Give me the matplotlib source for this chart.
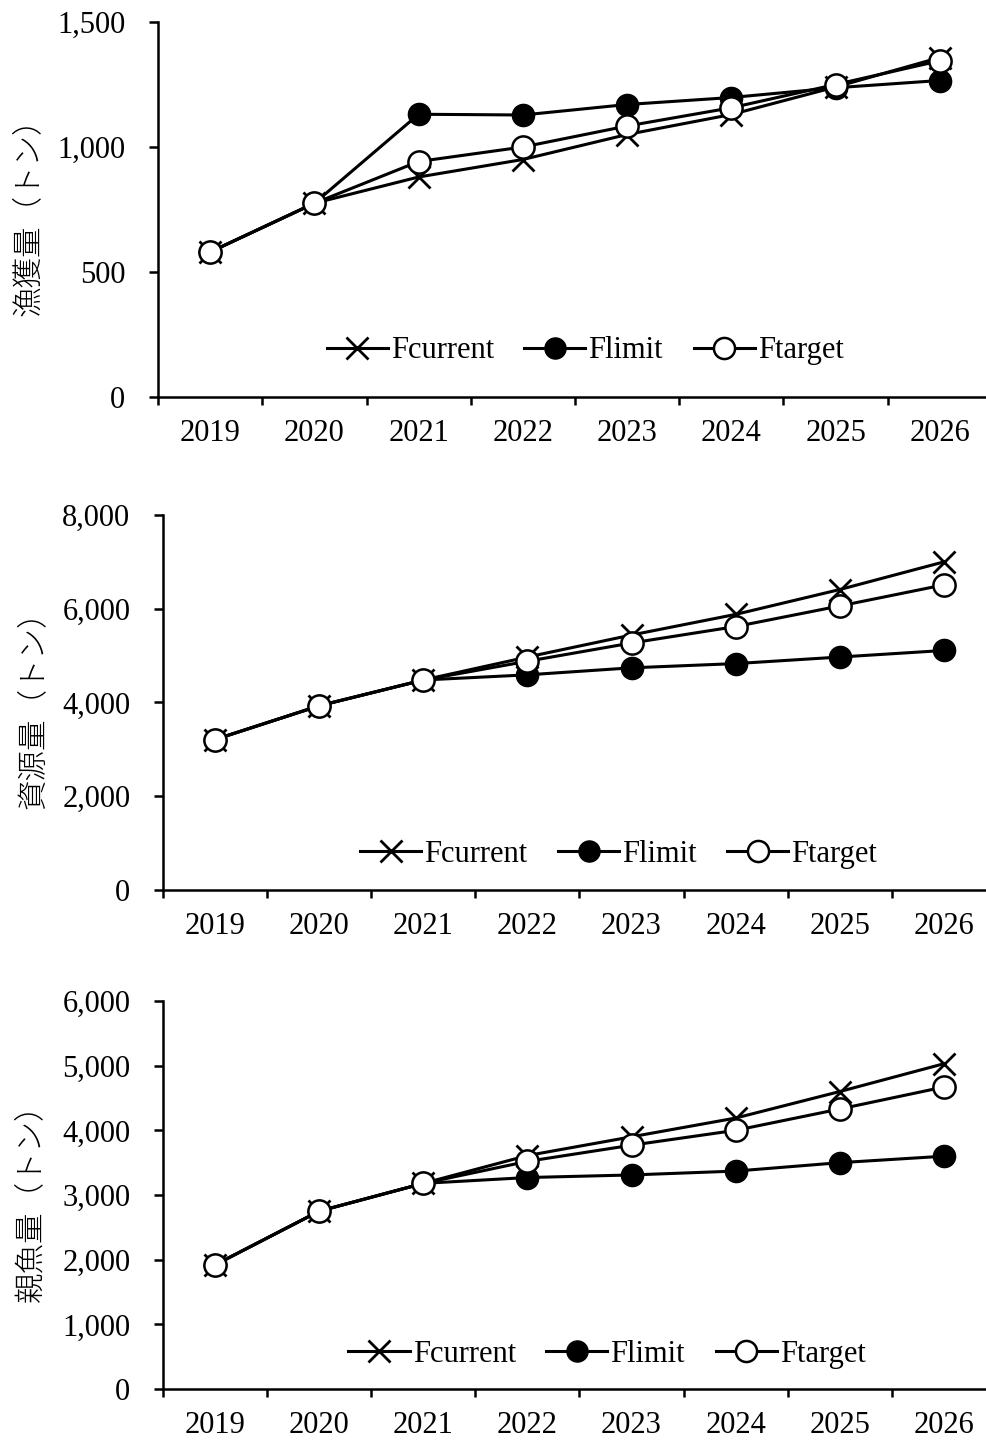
import matplotlib.pyplot as plt
from matplotlib.ticker import FuncFormatter, MultipleLocator
import numpy as np

years = ['2019', '2020', '2021', '2022', '2023', '2024', '2025', '2026']
series_names = ['Fcurrent', 'Flimit', 'Ftarget']

# 漁獲量
catch_fcurrent = [580, 775, 880, 950, 1050, 1130, 1240, 1358]
catch_flimit = [580, 775, 1131, 1128, 1170, 1198, 1237, 1266]
catch_ftarget = [580, 775, 942, 1000, 1084, 1157, 1250, 1345]

# 資源量
stock_fcurrent = [3210, 3930, 4480, 4970, 5440, 5880, 6410, 7000]
stock_flimit = [3210, 3930, 4480, 4590, 4740, 4830, 4970, 5110]
stock_ftarget = [3210, 3930, 4480, 4880, 5270, 5620, 6060, 6510]

# 親魚量
ssb_fcurrent = [1920, 2750, 3180, 3610, 3900, 4190, 4600, 5030]
ssb_flimit = [1920, 2750, 3180, 3270, 3310, 3370, 3500, 3600]
ssb_ftarget = [1920, 2750, 3180, 3520, 3770, 4000, 4330, 4670]

ylabels = ['漁獲量（トン）', '資源量（トン）', '親魚量（トン）']

plt.rcParams['font.family'] = ['Liberation Serif', 'DejaVu Serif']

W, H = 987, 1443
fig = plt.figure(figsize=(W / 100, H / 100), dpi=100)

# 各パネルの位置 (px): left, right, top, bottom
panels = [
    dict(box=(158, 992, 22, 397), data=(catch_fcurrent, catch_flimit, catch_ftarget),
         ymax=1500, step=500, leg=(0.512, 0.123), lab_x=44),
    dict(box=(163, 996, 515, 890), data=(stock_fcurrent, stock_flimit, stock_ftarget),
         ymax=8000, step=2000, leg=(0.547, 0.095), lab_x=49),
    dict(box=(163, 996, 1001, 1389), data=(ssb_fcurrent, ssb_flimit, ssb_ftarget),
         ymax=6000, step=1000, leg=(0.533, 0.090), lab_x=46),
]

x = np.arange(len(years))
fs = 22

for p, ylab in zip(panels, ylabels):
    l, r, t, b = p['box']
    ax = fig.add_axes([l / W, 1 - b / H, (r - l) / W, (b - t) / H])
    fc, fl, ft = p['data']
    ax.plot(x, fc, color='black', lw=2.2, marker='x', ms=16, mew=2.0,
            label=series_names[0])
    ax.plot(x, fl, color='black', lw=2.2, marker='o', ms=16, mfc='black',
            mec='black', label=series_names[1])
    ax.plot(x, ft, color='black', lw=2.2, marker='o', ms=16, mfc='white',
            mec='black', mew=1.8, label=series_names[2])

    ax.set_xlim(-0.5, len(years) - 0.5)
    ax.set_ylim(0, p['ymax'])
    ax.yaxis.set_major_locator(MultipleLocator(p['step']))
    ax.yaxis.set_major_formatter(FuncFormatter(lambda v, _: f'{v:,.0f}'))
    ax.set_xticks(x)
    ax.set_xticklabels(years)
    ax.set_xticks(np.arange(-0.5, len(years), 1.0), minor=True)
    ax.tick_params(axis='x', which='major', length=0, pad=16, labelsize=fs)
    ax.tick_params(axis='x', which='minor', length=6, width=1.8, direction='out')
    ax.tick_params(axis='y', length=6.5, width=1.8, direction='out', pad=17,
                   labelsize=fs)

    for side in ['top', 'right']:
        ax.spines[side].set_visible(False)
    for side in ['left', 'bottom']:
        ax.spines[side].set_linewidth(1.8)

    ax.set_ylabel(ylab, fontsize=22, family=['Noto Sans CJK JP', 'DejaVu Sans'],
                  fontweight='light')
    ax.yaxis.set_label_coords((p['lab_x'] - l) / (r - l), 0.5)

    ax.legend(loc='center', bbox_to_anchor=p['leg'], ncol=3, frameon=False,
              fontsize=fs, handlelength=2.0, handletextpad=0.1,
              columnspacing=1.0, markerscale=0.95)

fig.savefig('out.png', dpi=100)
